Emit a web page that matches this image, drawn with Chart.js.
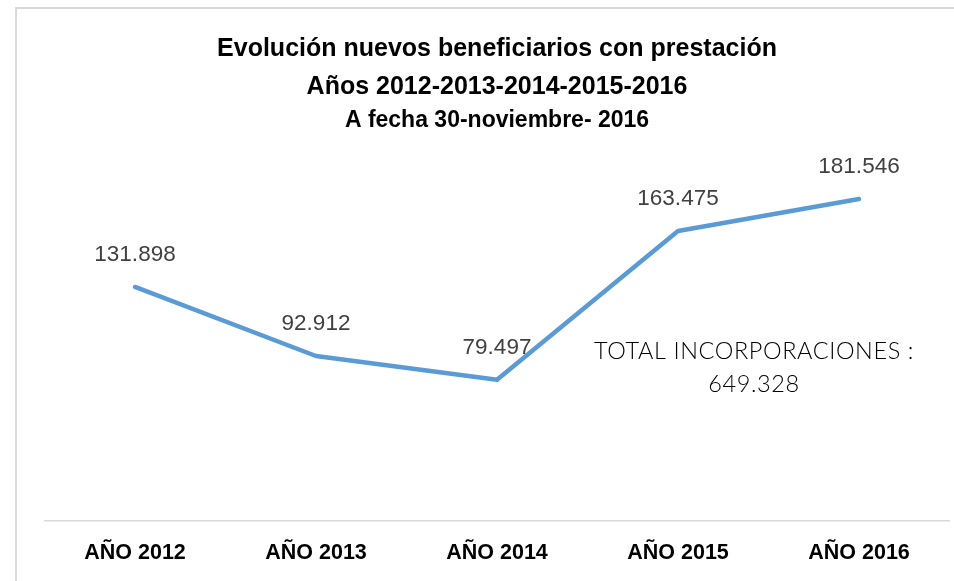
<!DOCTYPE html>
<html>
<head>
<meta charset="utf-8">
<script src="https://cdn.jsdelivr.net/npm/chart.js@4/dist/chart.umd.min.js"></script>
<style>
  html, body { margin: 0; padding: 0; background: #fff; }
  .frame {
    position: absolute; left: 15px; top: 7px; width: 939px; height: 574px;
    border-left: 2px solid #d9d9d9; border-top: 2px solid #d9d9d9;
  }
  .wrap { position: absolute; left: 0; top: 0; width: 954px; height: 581px; }
</style>
</head>
<body>
<div class="frame"></div>
<div class="wrap"><canvas id="chart"></canvas></div>
<script>
// ------------------------------------------------------------
// Nuevos beneficiarios con prestación, 2012–2016 (a 30-nov-2016)
// ------------------------------------------------------------

const years = ["AÑO 2012", "AÑO 2013", "AÑO 2014", "AÑO 2015", "AÑO 2016"];
const beneficiarios = [131898, 92912, 79497, 163475, 181546];
const titleLines = ["Evolución nuevos beneficiarios con prestación", "Años 2012-2013-2014-2015-2016"];
const subtitle = "A fecha 30-noviembre- 2016";
const totalNote = ["TOTAL INCORPORACIONES :", "649.328"];

const fmt = n => String(n).replace(/\B(?=(\d{3})+(?!\d))/g, ".");

// value labels above each point
const pointLabels = {
  id: "pointLabels",
  afterDatasetsDraw(chart) {
    const { ctx } = chart;
    const pts = chart.getDatasetMeta(0).data;
    ctx.save();
    ctx.font = "22.5px 'Liberation Sans', Arial, sans-serif";
    ctx.fillStyle = "#404040";
    ctx.textAlign = "center";
    ctx.textBaseline = "middle";
    pts.forEach((p, i) => ctx.fillText(fmt(beneficiarios[i]), p.x, p.y - 32));
    ctx.restore();
  }
};

// total annotation, anchored in data units
const totalLabel = {
  id: "totalLabel",
  afterDraw(chart) {
    const { ctx, scales: { x, y } } = chart;
    const cx = x.getPixelForValue(3.42);
    ctx.save();
    ctx.font = "300 23.5px Lato, 'Open Sans', sans-serif";
    ctx.fillStyle = "#000";
    ctx.textAlign = "center";
    ctx.textBaseline = "middle";
    ctx.letterSpacing = "0.6px";
    ctx.fillText(totalNote[0], cx, y.getPixelForValue(95500));
    ctx.fillText(totalNote[1], cx, y.getPixelForValue(77000));
    ctx.restore();
  }
};

new Chart(document.getElementById("chart"), {
  type: "line",
  data: {
    labels: years,
    datasets: [{
      data: beneficiarios,
      borderColor: "#5b9bd5",
      borderWidth: 4.5,
      borderCapStyle: "round",
      borderJoinStyle: "round",
      pointRadius: 0,
      tension: 0,
      fill: false
    }]
  },
  options: {
    responsive: true, maintainAspectRatio: false, animation: false,
    layout: { padding: { left: 44.5, right: 4.5, top: 0, bottom: -5 } },
    plugins: {
      legend: { display: false },
      tooltip: { enabled: false },
      title: {
        display: true, text: titleLines, color: "#000",
        font: { family: "'Liberation Sans', Arial, sans-serif", size: 25, weight: "bold", lineHeight: 38 / 25 },
        padding: { top: 30, bottom: 0 }
      },
      subtitle: {
        display: true, text: subtitle, color: "#000",
        font: { family: "'Liberation Sans', Arial, sans-serif", size: 23, weight: "bold", lineHeight: 24 / 23 },
        padding: { top: 3, bottom: 33.4 }
      }
    },
    scales: {
      x: {
        offset: true,
        grid: { display: false, drawTicks: false },
        border: { display: true, color: "#d9d9d9", width: 1.5 },
        ticks: { color: "#000", padding: 22, font: { family: "'Liberation Sans', Arial, sans-serif", size: 21.5, weight: "bold", lineHeight: 1 } }
      },
      y: { display: false, min: 0, max: 200000 }
    }
  },
  plugins: [pointLabels, totalLabel]
});
</script>
</body>
</html>
